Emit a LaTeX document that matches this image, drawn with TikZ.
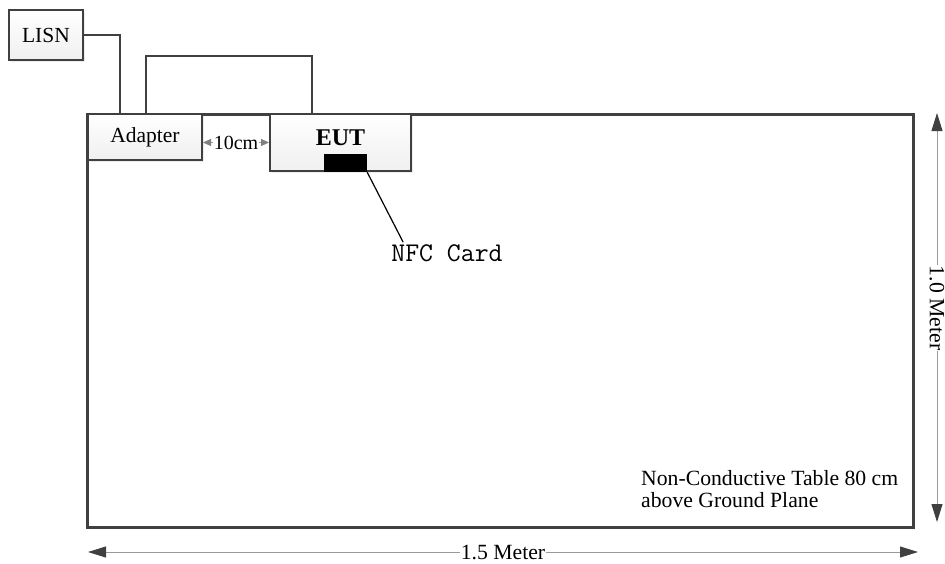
\documentclass[tikz,border=0pt]{standalone}
\usepackage{fontspec}
\setmainfont{Liberation Serif}
\usetikzlibrary{arrows.meta,shadows}
\definecolor{linegray}{HTML}{404040}
\definecolor{dimgray}{HTML}{9A9A9A}
\tikzset{
  box/.style={draw=linegray, line width=2pt, top color=white, bottom color=gray!12,
    drop shadow={shadow xshift=2pt, shadow yshift=-2pt, fill=gray!25, opacity=.6},
    inner sep=0pt, font=\fontsize{21.5}{24}\selectfont},
  wire/.style={draw=linegray, line width=1.8pt},
  dim/.style={draw=dimgray, line width=1pt,
    {Triangle[length=18pt,width=11pt,color=linegray]}-{Triangle[length=18pt,width=11pt,color=linegray]}},
  smalldim/.style={draw=dimgray, line width=1pt,
    {Triangle[length=8pt,width=7pt,color=gray]}-{Triangle[length=8pt,width=7pt,color=gray]}},
  txt/.style={font=\fontsize{21.7}{22}\selectfont, inner sep=1pt}
}
\begin{document}
\begin{tikzpicture}[x=1pt, y=-1pt]
    \useasboundingbox (0,0) rectangle (945,563);

    % table
    \node[draw=linegray, line width=3pt, minimum width=826pt, minimum height=413pt,
      inner sep=0pt] (table) at (500,320.5) {};
    \node[txt, align=left, anchor=north west] (note) at (640,469)
      {Non-Conductive Table 80 cm\\above Ground Plane};

    % boxes
    \node[box, minimum width=74pt, minimum height=50pt] (lisn) at (46,35) {LISN};
    \node[box, minimum width=114pt, minimum height=46pt] (adapter) at (145,137) {Adapter};
    \node[box, minimum width=141pt, minimum height=57pt, text depth=10pt,
      font=\fontsize{24}{26}\bfseries] (eut) at (340.5,142.5) {EUT};
    \node[fill=black, minimum width=43pt, minimum height=18pt, inner sep=0pt] (nfc) at (345.5,163) {};

    % cables
    \draw[wire] (lisn.east) -| ([xshift=-25pt]adapter.north);
    \draw[wire] ([xshift=1pt]adapter.north) -- ++(0,-57) -| ([xshift=-28.5pt]eut.north);

    % 10cm spacing
    \draw[smalldim] (adapter.east |- eut.west) -- (eut.west)
      node[midway, fill=white, font=\fontsize{20}{22}\selectfont, inner sep=1pt] (gap) {10cm};

    % NFC card label
    \node[font=\fontsize{27}{28}\ttfamily, inner sep=2pt] (nfclabel) at (447,253) {NFC Card};
    \draw[line width=1.2pt] (nfc.south east) -- ([xshift=14pt]nfclabel.north west);

    % dimensions
    \coordinate (top) at (937,113);
    \coordinate (bottom) at (937,522);
    \coordinate (left) at (88,552);
    \coordinate (right) at (918,552);
    \draw[dim] (top) -- (bottom)
      node[pos=0.477, sloped, fill=white, txt] (height) {1.0 Meter};
    \draw[dim] (left) -- (right)
      node[midway, fill=white, txt] (width) {1.5 Meter};
\end{tikzpicture}
\end{document}
